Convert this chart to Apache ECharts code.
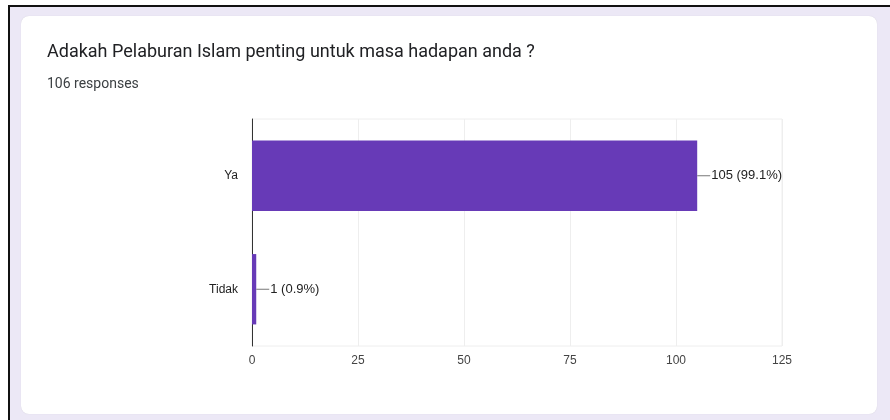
<!DOCTYPE html>
<html><head><meta charset="utf-8">
<script src="https://cdn.jsdelivr.net/npm/echarts@6/dist/echarts.min.js"></script>
<style>
html,body{margin:0;padding:0;background:#fff;}
#frame{position:absolute;left:8px;top:5px;width:882px;height:415px;border-left:2px solid #111;border-top:2px solid #111;background:#ece8f6;box-sizing:border-box;}
#card{position:absolute;left:21px;top:16px;width:856px;height:398px;background:#fff;border-radius:8px;box-shadow:0 0 1px rgba(0,0,0,0.15);}
#chart{position:absolute;left:0;top:0;width:890px;height:420px;}
</style></head>
<body>
<div id="frame"></div>
<div id="card"></div>
<div id="chart"></div>
<script>
const titleText = 'Adakah Pelaburan Islam penting untuk masa hadapan anda ?';
const subText = '106 responses';
const categories = ['Ya', 'Tidak'];
const values = [105, 1];
const percents = ['99.1%', '0.9%'];
const xTicks = [0, 25, 50, 75, 100, 125];

const chart = echarts.init(document.getElementById('chart'), null, {renderer: 'canvas'});
chart.setOption({
  backgroundColor: 'transparent',
  animation: false,
  title: [
    {text: titleText, left: 47, top: 43, padding: 0, textStyle: {fontFamily: 'Roboto', fontSize: 18, fontWeight: 'normal', color: '#202124'}},
    {text: subText, left: 47, top: 77, padding: 0, textStyle: {fontFamily: 'Roboto', fontSize: 14, fontWeight: 'normal', color: '#3c4043'}}
  ],
  grid: {left: 252, right: 108, top: 119, bottom: 74, show: true, borderColor: '#eeeeee', borderWidth: 1},
  xAxis: {
    type: 'value', min: xTicks[0], max: xTicks[xTicks.length - 1], interval: 25,
    axisLine: {show: false}, axisTick: {show: false},
    splitLine: {lineStyle: {color: '#eeeeee'}},
    axisLabel: {fontFamily: 'Liberation Sans', fontSize: 12, color: '#444', margin: 9}
  },
  yAxis: {
    type: 'category', data: categories, inverse: true,
    axisLine: {lineStyle: {color: '#333', width: 1}}, axisTick: {show: false},
    axisLabel: {fontFamily: 'Liberation Sans', fontSize: 12, color: '#222', margin: 14}
  },
  series: [{
    type: 'bar', data: values, barWidth: '62%',
    itemStyle: {color: '#673ab7'},
    label: {
      show: true, position: 'right', distance: 0,
      formatter: p => '{ln|}{t|' + values[p.dataIndex] + ' (' + percents[p.dataIndex] + ')}',
      rich: {
        ln: {width: 13, height: 1, backgroundColor: '#777'},
        t: {fontFamily: 'Liberation Sans', fontSize: 13, color: '#222', padding: [0, 0, 0, 1]}
      }
    }
  }]
});
</script>
</body></html>
